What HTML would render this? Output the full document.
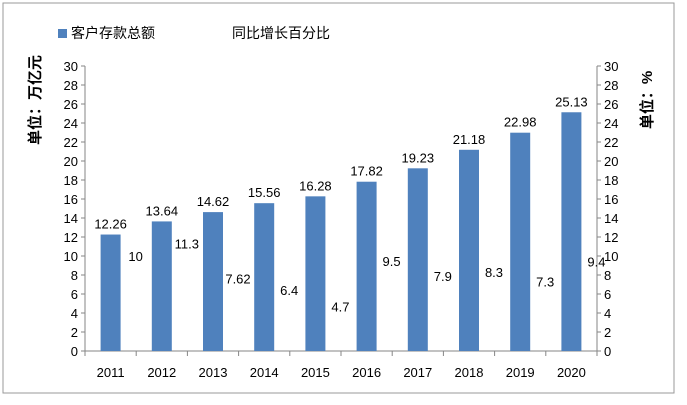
<!DOCTYPE html>
<html><head><meta charset="utf-8"><style>
body{margin:0;background:#fff}
svg text{font-family:"Liberation Sans","Noto Sans CJK SC",sans-serif}
</style></head><body>
<svg width="687" height="400">
<rect x="3" y="3" width="671" height="390" fill="#fff" stroke="#999"/>
<g>
<rect x="58" y="29" width="9" height="9" fill="#4F81BD"/>
<text x="71" y="38" font-size="14">客户存款总额</text>
<text x="232" y="38" font-size="14">同比增长百分比</text>
</g>
<text transform="translate(40,100) rotate(-90)" font-size="15" font-weight="bold" text-anchor="middle">单位：万亿元</text>
<text transform="translate(652,100) rotate(-90)" font-size="15" font-weight="bold" text-anchor="middle">单位：%</text>
<g id="axes"></g><g id="marks"></g>
</svg>
<script>
const years=["2011","2012","2013","2014","2015","2016","2017","2018","2019","2020"];
const deposits=[12.26,13.64,14.62,15.56,16.28,17.82,19.23,21.18,22.98,25.13];
const growth=[10,11.3,7.62,6.4,4.7,9.5,7.9,8.3,7.3,9.4];
const ticks=[0,2,4,6,8,10,12,14,16,18,20,22,24,26,28,30];
const NS="http://www.w3.org/2000/svg";
const x0=85,x1=597,yTop=66,yBot=351,vmax=30;
const y=v=>yBot-(v/vmax)*(yBot-yTop);
const step=(x1-x0)/years.length;
const xc=i=>x0+step*(i+0.5);
function mk(t,a,p){const e=document.createElementNS(NS,t);for(const k in a)e.setAttribute(k,a[k]);(p||document.getElementById('marks')).appendChild(e);return e;}
const ax=document.getElementById('axes');
let l=mk('line',{x1:x0,y1:yTop,x2:x0,y2:yBot,stroke:'#868686'},ax);


l=mk('line',{x1:x1,y1:yTop,x2:x1,y2:yBot,stroke:'#868686'},ax);


l=mk('line',{x1:x0,y1:yBot,x2:x1,y2:yBot,stroke:'#868686'},ax);


ticks.forEach(v=>{
 mk('line',{x1:x0-4,y1:y(v),x2:x0,y2:y(v),stroke:'#868686'},ax);
 mk('line',{x1:x1,y1:y(v),x2:x1+4,y2:y(v),stroke:'#868686'},ax);
 let t=mk('text',{x:x0-7,y:y(v)+5,'font-size':13,'text-anchor':'end'},ax);t.textContent=v;
 
 
 t=mk('text',{x:x1+7,y:y(v)+5,'font-size':13},ax);t.textContent=v;
 
 
});
for(let i=0;i<=years.length;i++)mk('line',{x1:x0+step*i,y1:yBot,x2:x0+step*i,y2:yBot+5,stroke:'#868686'},ax);
years.forEach((yr,i)=>{
 let t=mk('text',{x:xc(i),y:yBot+26,'font-size':13,'text-anchor':'middle'},ax);t.textContent=yr;
 
 
 const b=mk('rect',{x:xc(i)-10,y:y(deposits[i]),width:20,height:yBot-y(deposits[i]),fill:'#4F81BD'});
 
 
 t=mk('text',{x:xc(i),y:y(deposits[i])-6,'font-size':13,'text-anchor':'middle'});t.textContent=deposits[i];
 
 
 t=mk('text',{x:xc(i)+25,y:y(growth[i])+5,'font-size':13,'text-anchor':'middle'});t.textContent=growth[i];
 
 
});
</script>
</body></html>
